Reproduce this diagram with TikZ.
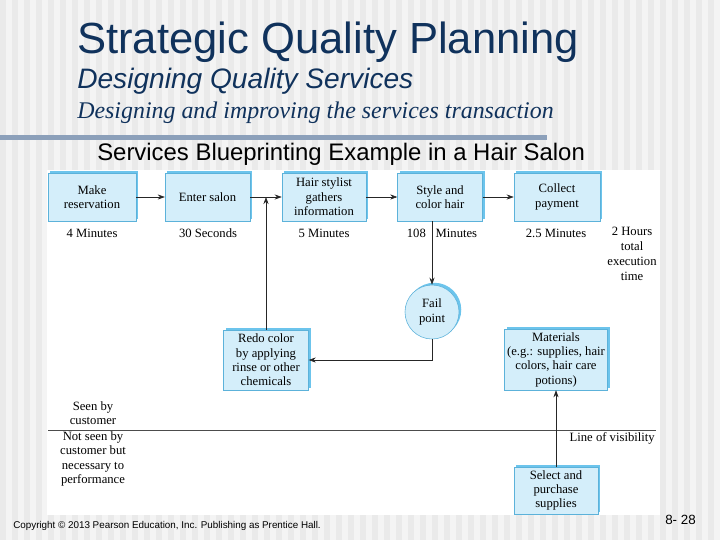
\documentclass[tikz,border=0pt]{standalone}
\usepackage{fontspec}
\setmainfont{Liberation Serif}
\setsansfont{Liberation Sans}
\usetikzlibrary{positioning,arrows.meta,shadows}
\definecolor{titlenavy}{RGB}{16,50,92}
\definecolor{boxfill}{RGB}{212,238,250}
\definecolor{boxline}{RGB}{92,178,218}
\definecolor{boxshade}{RGB}{108,196,236}
\definecolor{barblue}{RGB}{140,160,186}
\definecolor{slidegray}{RGB}{244,244,244}
\definecolor{stripegray}{RGB}{234,234,234}
\newcommand{\diagfont}{\fontsize{9}{10.2}\selectfont}

\begin{document}
\begin{tikzpicture}[x=0.025cm,y=-0.025cm,
  stepbox/.style={draw=boxline,fill=boxfill,align=center,font=\diagfont,inner sep=1pt,
    general shadow={fill=boxshade,shadow xshift=1.6pt,shadow yshift=1.6pt}},
  failpt/.style={stepbox,circle,minimum size=1.35cm},
  timelbl/.style={font=\diagfont,align=center},
  flow/.style={-{Stealth[length=5pt,width=3.6pt]},thin,black!85}]
  % slide background
  \fill[slidegray] (0,0) rectangle (720,540);
  \foreach \sx in {0,12,...,708}
    \fill[stripegray] (\sx,0) rectangle ++(6,540);
  \useasboundingbox (0,0) rectangle (720,540);
  \fill[white] (47,170) rectangle (660,515);
  \fill[barblue] (0,135) rectangle (547,140);
  % headings
  \node[anchor=base west,inner sep=0,text=titlenavy,font=\sffamily\fontsize{31}{34}\selectfont] (title) at (77,53) {Strategic Quality Planning};
  \node[anchor=base west,inner sep=0,text=titlenavy,font=\sffamily\itshape\fontsize{20}{22}\selectfont] (sub) at (77,88) {Designing Quality Services};
  \node[anchor=base west,inner sep=0,text=titlenavy,font=\itshape\fontsize{17}{19}\selectfont] (subsub) at (77,118) {Designing and improving the services transaction};
  \node[anchor=base west,inner sep=0,font=\sffamily\fontsize{17}{19}\selectfont] (caption) at (97,160) {Services Blueprinting Example in a Hair Salon};

  % line of visibility
  \coordinate (visL) at (48,430);
  \coordinate (visR) at (656,430);
  \draw[black!70,semithick] (visL) -- (visR);
  \node[timelbl,anchor=east,inner sep=0] (vislbl) at (655,438) {Line of visibility};
  \node[timelbl] (seen) at (93,413) {Seen by\\customer};
  \node[timelbl] (unseen) at (93,459) {Not seen by\\customer but\\necessary to\\performance};

  % steps above the line
  \node[stepbox,minimum width=2.2cm,minimum height=1.2cm] (res) at (92,197) {Make\\reservation};
  \node[stepbox,minimum width=2.12cm,minimum height=1.2cm] (enter) at (207.5,197) {Enter salon};
  \node[stepbox,minimum width=2.1cm,minimum height=1.2cm] (gather) at (324,197) {Hair stylist\\gathers\\information};
  \node[stepbox,minimum width=2.12cm,minimum height=1.2cm] (style) at (440,197) {Style and\\color hair};
  \node[stepbox,minimum width=2.15cm,minimum height=1.2cm] (pay) at (557,197) {Collect\\payment};
  \node[failpt] (fail) at (432,312) {Fail\\point};
  \node[stepbox,minimum width=2.12cm,minimum height=1.5cm] (redo) at (266,360) {Redo color\\by applying\\rinse or other\\chemicals};
  \node[stepbox,minimum width=2.57cm,minimum height=1.52cm] (mater) at (556,359.5) {Materials\\(e.g.: supplies, hair\\colors, hair care\\potions)};
  % step below the line
  \node[stepbox,minimum width=2.1cm,minimum height=1.18cm] (select) at (556,490.5) {Select and\\purchase\\supplies};

  % times
  \node[timelbl] (t1) at (92,233) {4 Minutes};
  \node[timelbl] (t2) at (208,233) {30 Seconds};
  \node[timelbl] (t3) at (324,233) {5 Minutes};
  \node[timelbl] (t4) at (442,233) {108\hspace{7pt}Minutes};
  \node[timelbl] (t5) at (556,233) {2.5 Minutes};
  \node[timelbl,font=\fontsize{9}{10.6}\selectfont] (total) at (632,254) {2 Hours\\total\\execution\\time};

  % connectors
  \draw[flow] (res) -- (enter);
  \draw[flow] (enter) -- (gather);
  \draw[flow] (gather) -- (style);
  \draw[flow] (style) -- (pay);
  \draw[flow] (fail.north |- style.south) -- (fail.north);
  \draw[flow] (fail.south) |- (redo.east);
  \draw[flow] (redo.north) -- (redo.north |- enter.east);
  \draw[flow] (select.north) -- (mater.south);

  % footer
  \node[anchor=base west,inner sep=0,font=\sffamily\fontsize{7}{8}\selectfont] (copy) at (13,528) {Copyright \textcopyright{} 2013 Pearson Education, Inc. Publishing as Prentice Hall.};
  \node[anchor=base west,inner sep=0,font=\sffamily\fontsize{9.5}{11}\selectfont] (page) at (665,524) {8- 28};
\end{tikzpicture}
\end{document}
